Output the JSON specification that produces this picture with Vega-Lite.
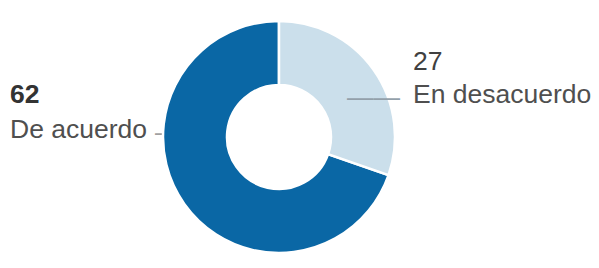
{
  "$schema": "https://vega.github.io/schema/vega-lite/v6.json",
  "width": 558,
  "height": 262,
  "autosize": "none",
  "padding": {"left": 0, "right": 41, "top": 6, "bottom": 0},
  "background": "white",
  "config": {"view": {"stroke": null}, "font": "Liberation Sans"},
  "data": {"values": [
    {"respuesta": "De acuerdo", "valor": 62},
    {"respuesta": "En desacuerdo", "valor": 27}
  ]},
  "layer": [
    {
      "transform": [{"filter": "datum.respuesta === 'De acuerdo'"}],
      "mark": {"type": "text", "text": "—", "fontSize": 26.5, "align": "left", "baseline": "alphabetic", "radius": 130, "dx": -1.2, "dy": -38.8, "color": "#a0a0a0"},
      "encoding": {"theta": {"field": "valor", "type": "quantitative", "stack": null}}
    },
    {
      "mark": {"type": "arc", "outerRadius": 116, "innerRadius": 52, "stroke": "white", "strokeWidth": 2.5},
      "encoding": {
        "theta": {"field": "valor", "type": "quantitative", "stack": true},
        "order": {"field": "valor", "type": "quantitative", "sort": "ascending"},
        "color": {"field": "respuesta", "type": "nominal", "legend": null,
          "scale": {"domain": ["En desacuerdo", "De acuerdo"], "range": ["#cbdfeb", "#0a67a5"]}}
      }
    },
    {
      "transform": [{"filter": "datum.respuesta === 'En desacuerdo'"}],
      "mark": {"type": "text", "text": "——", "fontSize": 26.5, "align": "right", "baseline": "alphabetic", "radius": 130, "dx": -1.8, "dy": -73.8, "color": "#93a0aa"},
      "encoding": {"theta": {"field": "valor", "type": "quantitative", "stack": null}}
    },
    {
      "transform": [{"filter": "datum.respuesta === 'De acuerdo'"}],
      "mark": {"type": "text", "fontSize": 26.5, "fontWeight": "bold", "align": "left", "baseline": "alphabetic", "radius": 130, "dx": -146.2, "dy": -76.8, "color": "#333333"},
      "encoding": {"theta": {"field": "valor", "type": "quantitative", "stack": null}, "text": {"field": "valor", "type": "quantitative"}}
    },
    {
      "transform": [{"filter": "datum.respuesta === 'De acuerdo'"}],
      "mark": {"type": "text", "fontSize": 26.5, "align": "left", "baseline": "alphabetic", "radius": 130, "dx": -146.2, "dy": -41.8, "color": "#4f4f4f"},
      "encoding": {"theta": {"field": "valor", "type": "quantitative", "stack": null}, "text": {"field": "respuesta", "type": "nominal"}}
    },
    {
      "transform": [{"filter": "datum.respuesta === 'En desacuerdo'"}],
      "mark": {"type": "text", "fontSize": 26.5, "align": "left", "baseline": "alphabetic", "radius": 130, "dx": 11.2, "dy": -109.8, "color": "#404040"},
      "encoding": {"theta": {"field": "valor", "type": "quantitative", "stack": null}, "text": {"field": "valor", "type": "quantitative"}}
    },
    {
      "transform": [{"filter": "datum.respuesta === 'En desacuerdo'"}],
      "mark": {"type": "text", "fontSize": 26.5, "align": "left", "baseline": "alphabetic", "radius": 130, "dx": 11.2, "dy": -76.8, "color": "#4f4f4f"},
      "encoding": {"theta": {"field": "valor", "type": "quantitative", "stack": null}, "text": {"field": "respuesta", "type": "nominal"}}
    }
  ]
}
